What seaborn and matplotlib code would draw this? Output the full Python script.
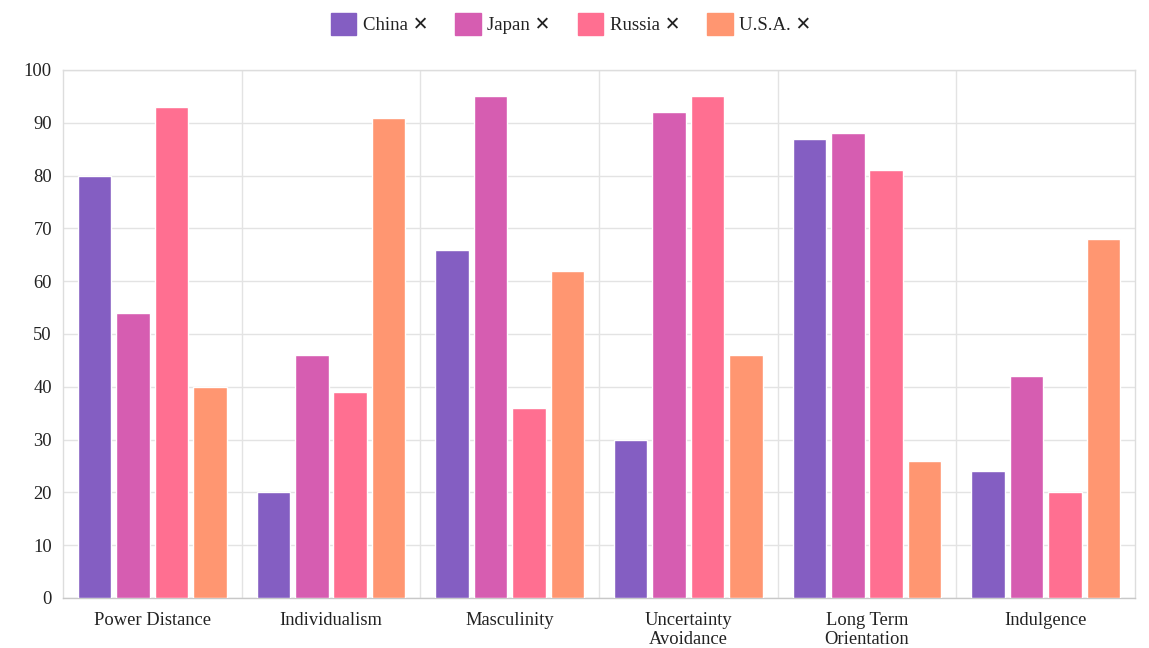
import matplotlib
matplotlib.use("Agg")
import matplotlib.pyplot as plt
import seaborn as sns
import pandas as pd

categories = ["Power Distance", "Individualism", "Masculinity",
              "Uncertainty\nAvoidance", "Long Term\nOrientation", "Indulgence"]
countries = ["China", "Japan", "Russia", "U.S.A."]
china = [80, 20, 66, 30, 87, 24]
japan = [54, 46, 95, 92, 88, 42]
russia = [93, 39, 36, 95, 81, 20]
usa = [40, 91, 62, 46, 26, 68]
colors = ["#845EC2", "#D65DB1", "#FF6F91", "#FF9671"]
yticks = list(range(0, 101, 10))

rows = []
for name, vals in zip(countries, [china, japan, russia, usa]):
    for c, v in zip(categories, vals):
        rows.append({"dimension": c, "country": name, "value": v})
df = pd.DataFrame(rows)

sns.set_theme(style="white")
plt.rcParams["font.family"] = ["Liberation Serif", "DejaVu Sans"]

fig = plt.figure(figsize=(11.49, 6.48), dpi=100)
ax = fig.add_axes([63 / 1149, 50 / 648, (1135 - 63) / 1149, (598 - 70) / 648])

sns.barplot(data=df, x="dimension", y="value", hue="country", order=categories,
            hue_order=countries, palette=colors, width=0.86, gap=0.13,
            saturation=1, ax=ax, legend=False, zorder=3)

ax.set_ylim(0, 100)
ax.set_xlim(-0.5, len(categories) - 0.5)
ax.set_yticks(yticks)
ax.set_yticklabels([str(t) for t in yticks])
ax.set_xlabel("")
ax.set_ylabel("")
ax.yaxis.grid(True, color="#e3e3e3", linewidth=1, zorder=0)
for i in range(1, len(categories)):
    ax.axvline(i - 0.5, color="#e3e3e3", linewidth=1, zorder=0)
for s in ax.spines.values():
    s.set_color("#dddddd")
    s.set_linewidth(1)
ax.spines["bottom"].set_color("#c8c8c8")
ax.tick_params(axis="both", length=0, labelsize=13.3, colors="#222222")
ax.tick_params(axis="y", pad=8)
ax.tick_params(axis="x", pad=10)
for lbl in ax.get_xticklabels():
    lbl.set_linespacing(1.2)
    lbl.set_va("top")

# legend
handles = [plt.Rectangle((0, 0), 1, 1, color=c) for c in colors]
leg = fig.legend(handles, [f"{n} \u2715" for n in countries], loc="center",
                 bbox_to_anchor=(571 / 1149, 1 - 24 / 648), ncol=4, frameon=False,
                 fontsize=13.5, handlelength=1.35, handleheight=1.35,
                 handletextpad=0.35, columnspacing=1.45)
for t in leg.get_texts():
    t.set_color("#222222")

fig.savefig("out.png", dpi=100, facecolor="white")
